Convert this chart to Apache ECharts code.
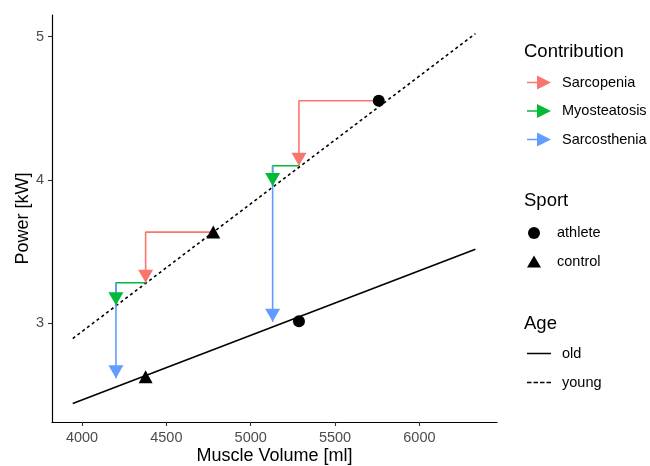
<!DOCTYPE html>
<html><head><meta charset="utf-8">
<script src="https://cdn.jsdelivr.net/npm/echarts@6/dist/echarts.min.js"></script>
<style>html,body{margin:0;padding:0;background:#fff}#c{width:650px;height:466px}</style>
</head><body><div id="c"></div>
<script>
// ---- data ----
const xTicks = [4000, 4500, 5000, 5500, 6000];
const yTicks = [3, 4, 5];
const oldLine = [[3945, 2.442], [6332, 3.518]];
const youngLine = [[3945, 2.895], [6332, 5.021]];
const athlete = [[5759, 4.553], [5286, 3.016]];
const control = [[4778, 3.637], [4377, 2.628]];
const sarcopenia = [
  [[4778, 3.637], [4377, 3.637], [4377, 3.284]],
  [[5759, 4.553], [5286, 4.553], [5286, 4.100]]
];
const myosteatosis = [
  [[4377, 3.284], [4201, 3.284], [4201, 3.127]],
  [[5286, 4.100], [5130, 4.100], [5130, 3.958]]
];
const sarcosthenia = [
  [[4201, 3.284], [4201, 2.618]],
  [[5130, 4.100], [5130, 3.012]]
];
const contribNames = ['Sarcopenia', 'Myosteatosis', 'Sarcosthenia'];
const contribColors = ['#F8766D', '#00BA38', '#619CFF'];

// ---- helpers ----
function arrowData(paths) {
  const out = [];
  paths.forEach((p, k) => {
    if (k > 0) out.push('-');
    p.forEach((pt, i) => {
      if (i === p.length - 1) {
        out.push({ value: pt, symbol: 'triangle', symbolSize: [15, 13], symbolRotate: 180, symbolOffset: [0, -6.5] });
      } else {
        out.push({ value: pt });
      }
    });
  });
  return out;
}
function arrowSeries(name, color, paths) {
  return {
    type: 'line', name: name, data: arrowData(paths),
    symbol: 'triangle', symbolSize: 0, showSymbol: true,
    lineStyle: { color: color, width: 1.6 },
    itemStyle: { color: color, borderWidth: 0 },
    silent: true, animation: false, z: 3
  };
}

const FONT = '"Liberation Sans", Arial, sans-serif';
const chart = echarts.init(document.getElementById('c'), null, { renderer: 'canvas' });
const legendText = { fontFamily: FONT, fontSize: 14.5, color: '#000', padding: [0, 0, 0, 6] };
const arrowIcon = 'path://M0,6.2H13V7.8H0Z M10,0L24,7L10,14Z';
const plain = v => String(v);

chart.setOption({
  animation: false,
  grid: { left: 52, top: 15, width: 445, height: 407, containLabel: false, outerBoundsMode: 'none' },
  xAxis: {
    type: 'value', min: 3822, max: 6460,
    name: 'Muscle Volume [ml]', nameLocation: 'middle', nameGap: 25, nameMoveOverlap: false,
    nameTextStyle: { fontFamily: FONT, fontSize: 18, color: '#000' },
    axisLine: { show: true, onZero: false, lineStyle: { color: '#000', width: 1.2 } },
    axisTick: { show: true, length: 4, customValues: xTicks, lineStyle: { color: '#333', width: 1.1 } },
    axisLabel: { customValues: xTicks, formatter: plain, margin: 8, fontFamily: FONT, fontSize: 14.5, color: '#4D4D4D' },
    splitLine: { show: false }
  },
  yAxis: {
    type: 'value', min: 2.313, max: 5.151,
    name: 'Power [kW]', nameLocation: 'middle', nameGap: 20, nameMoveOverlap: false,
    nameTextStyle: { fontFamily: FONT, fontSize: 18, color: '#000' },
    axisLine: { show: true, onZero: false, lineStyle: { color: '#000', width: 1.2 } },
    axisTick: { show: true, length: 4, customValues: yTicks, lineStyle: { color: '#333', width: 1.1 } },
    axisLabel: { customValues: yTicks, formatter: plain, margin: 8, fontFamily: FONT, fontSize: 14.5, color: '#4D4D4D' },
    splitLine: { show: false }
  },
  legend: [
    {
      orient: 'vertical', left: 527, top: 75, padding: 0, itemWidth: 24, itemHeight: 14, itemGap: 13.5,
      selectedMode: false, icon: arrowIcon, itemStyle: { borderWidth: 0 },
      data: contribNames, textStyle: legendText
    },
    {
      orient: 'vertical', left: 527, top: 225.5, padding: 0, itemWidth: 24, itemHeight: 12, itemGap: 13.5,
      selectedMode: false, itemStyle: { borderWidth: 0 },
      data: [{ name: 'athlete', icon: 'circle' }, { name: 'control', icon: 'path://M0,12L7,0L14,12Z' }],
      textStyle: legendText
    },
    {
      orient: 'vertical', left: 527, top: 346, padding: 0, itemWidth: 24, itemHeight: 14, itemGap: 14,
      selectedMode: false, itemStyle: { borderWidth: 0 },
      data: [
        { name: 'old', icon: 'path://M0,0H24V1.5H0Z' },
        { name: 'young', icon: 'path://M0,0H4.5V1.5H0Z M6.5,0H11V1.5H6.5Z M13,0H17.5V1.5H13Z M19.5,0H24V1.5H19.5Z' }
      ],
      textStyle: legendText
    }
  ],
  graphic: [
    { type: 'text', left: 524, top: 42, style: { text: 'Contribution', fontFamily: FONT, fontSize: 18.5, fill: '#000' } },
    { type: 'text', left: 524, top: 191, style: { text: 'Sport', fontFamily: FONT, fontSize: 18.5, fill: '#000' } },
    { type: 'text', left: 524, top: 314, style: { text: 'Age', fontFamily: FONT, fontSize: 18.5, fill: '#000' } }
  ],
  series: [
    { type: 'line', name: 'old', data: oldLine, symbol: 'none', silent: true,
      lineStyle: { color: '#000', width: 1.6 }, itemStyle: { color: '#000' }, z: 2 },
    { type: 'line', name: 'young', data: youngLine, symbol: 'none', silent: true,
      lineStyle: { color: '#000', width: 1.6, type: [3, 3] }, itemStyle: { color: '#000' }, z: 2 },
    arrowSeries(contribNames[0], contribColors[0], sarcopenia),
    arrowSeries(contribNames[1], contribColors[1], myosteatosis),
    arrowSeries(contribNames[2], contribColors[2], sarcosthenia),
    { type: 'scatter', name: 'athlete', data: athlete, symbol: 'circle', symbolSize: 12, silent: true,
      itemStyle: { color: '#000', opacity: 1 }, z: 4 },
    { type: 'scatter', name: 'control', data: control, symbol: 'triangle', symbolSize: [14, 13], silent: true,
      itemStyle: { color: '#000', opacity: 1 }, z: 4 }
  ]
});
</script></body></html>
